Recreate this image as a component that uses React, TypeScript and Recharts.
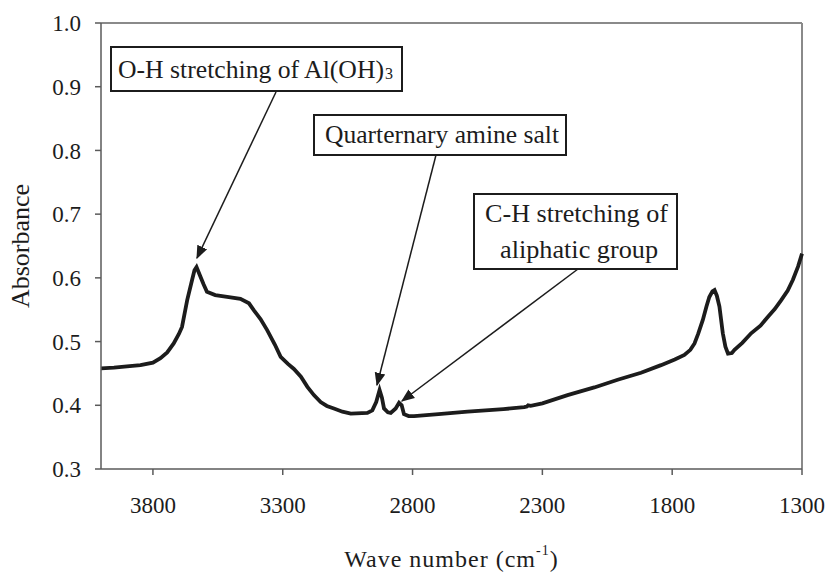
import { LineChart, Line, XAxis, YAxis, ReferenceLine, Label } from 'recharts'

// FTIR spectrum (wave number cm-1 -> absorbance)
const waveNumbers = [
  4000, 3950, 3900, 3848, 3800, 3771, 3745, 3720, 3700, 3688, 3668, 3649, 3640, 3632, 3620, 3605,
  3592, 3560, 3514, 3463, 3430, 3411, 3385, 3360, 3330, 3308, 3280, 3257, 3230, 3205, 3180, 3154,
  3130, 3103, 3070, 3038, 2974, 2955, 2940, 2927, 2918, 2910, 2895, 2884, 2865, 2852, 2842, 2833,
  2815, 2794, 2700, 2588, 2450, 2370, 2360, 2355, 2345, 2300, 2203, 2100, 2010, 1920, 1843, 1790,
  1753, 1730, 1714, 1700, 1682, 1668, 1657, 1645, 1637, 1628, 1618, 1605, 1595, 1585, 1570, 1560,
  1530, 1496, 1460, 1431, 1405, 1380, 1355, 1335, 1315, 1300,
]
const absorbance = [
  0.458, 0.459, 0.461, 0.463, 0.467, 0.474, 0.483, 0.497, 0.512, 0.523, 0.565, 0.597, 0.612, 0.617, 0.605, 0.59,
  0.578, 0.573, 0.57, 0.567, 0.56, 0.549, 0.535, 0.518, 0.495, 0.476, 0.465, 0.457, 0.445, 0.429, 0.416, 0.405,
  0.399, 0.395, 0.39, 0.387, 0.388, 0.392, 0.405, 0.424, 0.412, 0.395, 0.389, 0.388, 0.395, 0.404, 0.4, 0.386,
  0.383, 0.383, 0.386, 0.39, 0.394, 0.397, 0.398, 0.4, 0.399, 0.403, 0.416, 0.428, 0.44, 0.451, 0.463, 0.472,
  0.479, 0.487, 0.497, 0.512, 0.534, 0.555, 0.57, 0.579, 0.581, 0.572, 0.555, 0.513, 0.492, 0.481, 0.482, 0.487,
  0.498, 0.513, 0.525, 0.539, 0.551, 0.565, 0.58, 0.597, 0.618, 0.638,
]

const xTicks = [3800, 3300, 2800, 2300, 1800, 1300]
const yTicks = [0.3, 0.4, 0.5, 0.6, 0.7, 0.8, 0.9, 1.0]

const data = waveNumbers.map((wn, i) => ({ wn, abs: absorbance[i] }))

const FONT = '"Liberation Serif", "Times New Roman", serif'
const INK = '#1c1c1c'
const AXIS = '#5a5a5a'

function XTitle({ viewBox }: any) {
  const cx = viewBox.x + viewBox.width / 2
  return (
    <text x={cx} y={567} textAnchor="middle" fontFamily={FONT} fontSize={24} fill={INK} letterSpacing={1}>
      Wave number (cm
      <tspan fontSize={14} dy={-12}>-1</tspan>
      <tspan dy={12}>)</tspan>
    </text>
  )
}

function Annotations() {
  const box = { fill: '#fff', stroke: INK, strokeWidth: 2 }
  const txt = { fontFamily: FONT, fontSize: 25, fill: INK, lengthAdjust: 'spacingAndGlyphs' }
  return (
    <svg width={828} height={573} style={{ position: 'absolute', left: 0, top: 0, pointerEvents: 'none' }}>
      <defs>
        <marker id="head" viewBox="0 0 10 10" refX="9" refY="5" markerWidth="9" markerHeight="9" orient="auto">
          <path d="M0,1 L10,5 L0,9 z" fill={INK} />
        </marker>
      </defs>
      <line x1={276} y1={92} x2={197} y2={258} stroke={INK} strokeWidth={1.5} markerEnd="url(#head)" />
      <line x1={436} y1={155} x2={377} y2={385} stroke={INK} strokeWidth={1.5} markerEnd="url(#head)" />
      <line x1={578} y1={269} x2={402} y2={401} stroke={INK} strokeWidth={1.5} markerEnd="url(#head)" />

      <rect x={111} y={47} width={291} height={44} {...box} />
      <text x={118} y={78} {...txt} textLength={266}>O-H stretching of Al(OH)</text>
      <text x={385} y={79} fontFamily={FONT} fontSize={16} fill={INK}>3</text>

      <rect x={314} y={115} width={252} height={40} {...box} />
      <text x={325} y={143} {...txt} textLength={234}>Quarternary amine salt</text>

      <rect x={474} y={194} width={203} height={75} {...box} />
      <text x={485} y={222} {...txt} textLength={183}>C-H stretching of</text>
      <text x={500} y={258} {...txt} textLength={158}>aliphatic group</text>
    </svg>
  )
}

export default function App() {
  return (
    <div style={{ position: 'absolute', left: 0, top: 0, width: 828, height: 573, background: '#fff' }}>
      <LineChart width={828} height={573} data={data} margin={{ top: 23, right: 26, bottom: 0, left: 0 }}>
        <XAxis
          dataKey="wn"
          type="number"
          domain={[1300, 4000]}
          reversed
          ticks={xTicks}
          interval={0}
          height={104}
          tick={{ fill: INK, fontSize: 23, fontFamily: FONT }}
          tickSize={6}
          tickMargin={22}
          stroke={AXIS}
          strokeWidth={1.5}
        >
          <Label content={<XTitle />} />
        </XAxis>
        <YAxis
          type="number"
          domain={[0.3, 1.0]}
          ticks={yTicks}
          interval={0}
          width={101}
          tickFormatter={(v: number) => v.toFixed(1)}
          tick={{ fill: INK, fontSize: 23, fontFamily: FONT }}
          tickSize={6}
          tickMargin={14}
          stroke={AXIS}
          strokeWidth={1.5}
        >
          <Label
            value="Absorbance"
            angle={-90}
            position="insideLeft"
            offset={0}
            style={{ fontFamily: FONT, fontSize: 26, fill: INK, textAnchor: 'middle' }}
            dx={20}
          />
        </YAxis>
        <ReferenceLine y={1.0} stroke="#8a8a8a" strokeWidth={2} />
        <ReferenceLine x={1300} stroke="#8a8a8a" strokeWidth={2} />
        <Line
          dataKey="abs"
          type="linear"
          stroke={INK}
          strokeWidth={3.8}
          dot={false}
          isAnimationActive={false}
        />
      </LineChart>
      <Annotations />
    </div>
  )
}
